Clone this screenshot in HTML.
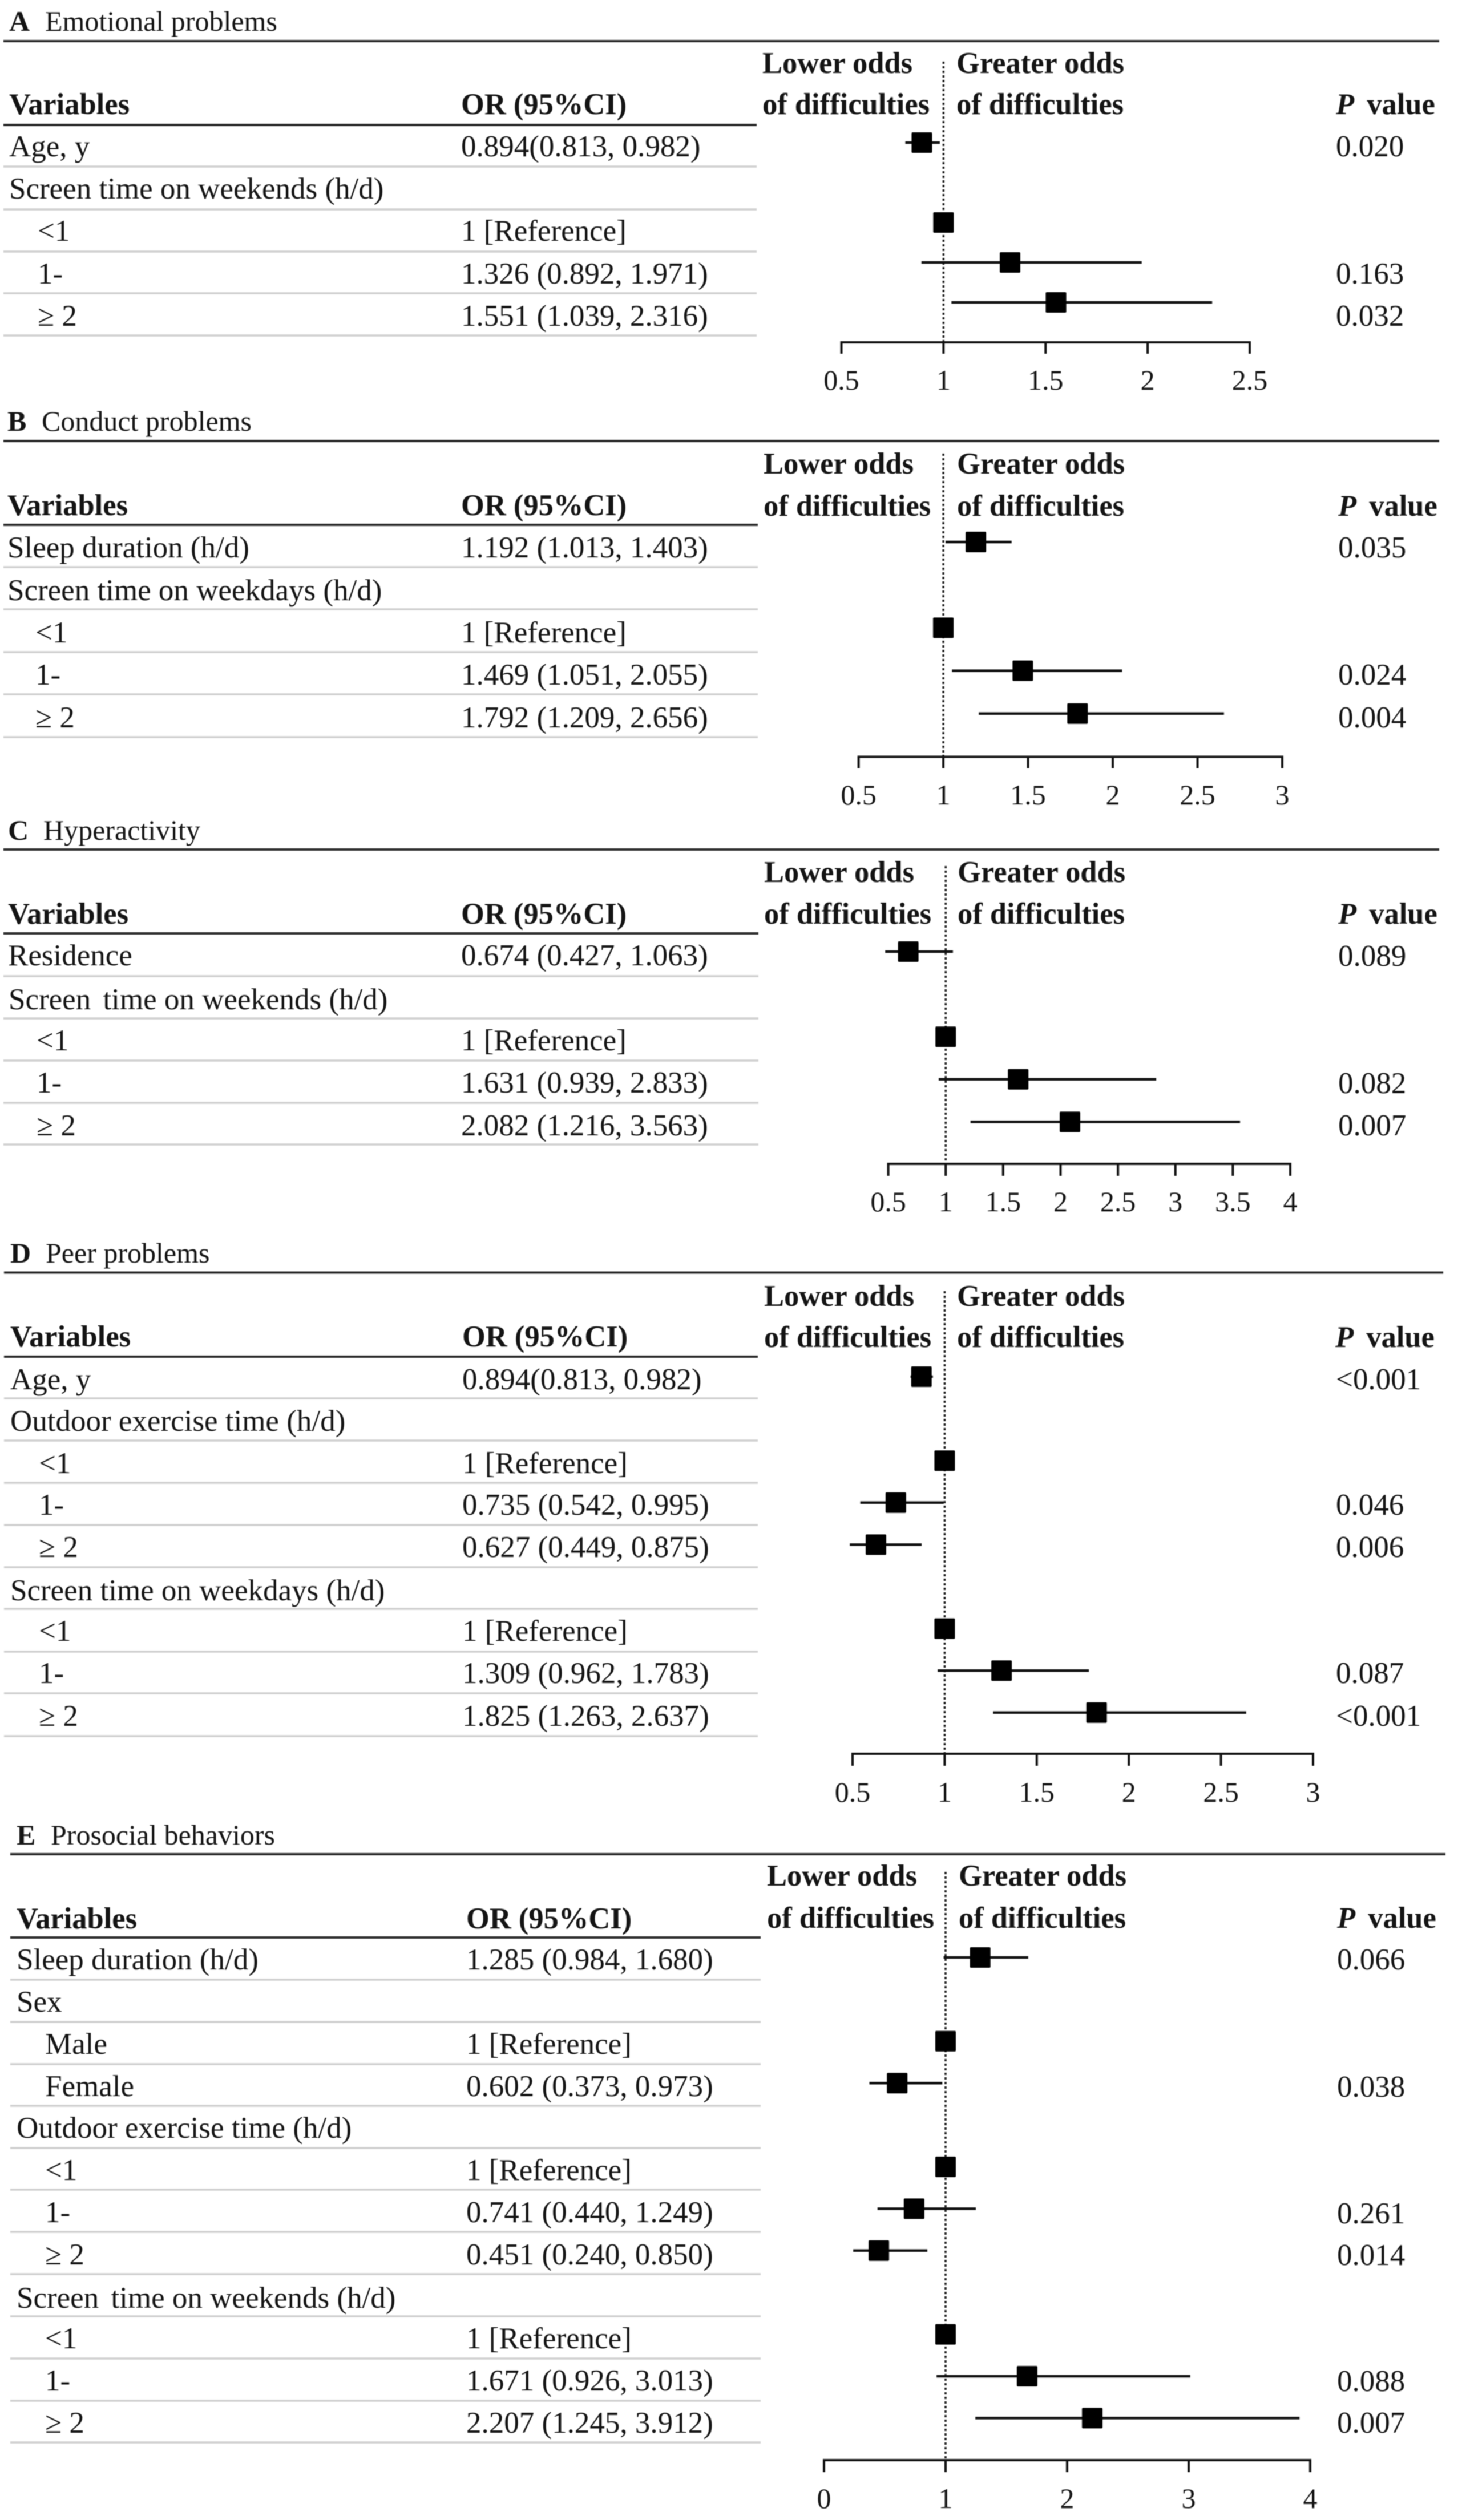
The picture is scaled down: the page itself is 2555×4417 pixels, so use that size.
<!DOCTYPE html>
<html lang="en">
<head>
<meta charset="utf-8">
<title>Forest plots of odds of difficulties</title>
<style>
html,body{margin:0;padding:0;background:#fff;}
#figure{display:block;width:2555px;height:4417px;filter:blur(0.8px);}
text{font-family:"Liberation Serif","Times New Roman",serif;fill:#141414;}
.r{font-size:53px;}
.h{font-size:52.5px;font-weight:bold;}
.t{font-size:50px;}
.tb{font-size:50px;font-weight:bold;}
.tick{font-size:50px;text-anchor:middle;}
.top{stroke:#2b2b2b;stroke-width:4;}
.head{stroke:#2b2b2b;stroke-width:4;}
.row{stroke:#cfcfcf;stroke-width:3.5;}
</style>
</head>
<body>
<svg id="figure" xmlns="http://www.w3.org/2000/svg" width="2555" height="4417" viewBox="0 0 2555 4417">
<rect x="0" y="0" width="2555" height="4417" fill="#fff"/>

<g>
<text class="tb" x="16" y="54">A</text>
<text class="t" x="79" y="54">Emotional problems</text>
<line class="top" x1="6" x2="2522" y1="72" y2="72"/>
<text class="h" x="1336" y="128">Lower odds</text>
<text class="h" x="1336" y="200">of difficulties</text>
<text class="h" x="1676" y="128">Greater odds</text>
<text class="h" x="1676" y="200">of difficulties</text>
<text class="h" x="16" y="200">Variables</text>
<text class="h" x="808" y="200">OR (95%CI)</text>
<text class="h" x="2341" y="200"><tspan font-style="italic">P</tspan><tspan dx="9"> value</tspan></text>
<line class="head" x1="6" x2="1326" y1="219" y2="219"/>
<line class="row" x1="6" x2="1326" y1="292" y2="292"/>
<line class="row" x1="6" x2="1326" y1="367" y2="367"/>
<line class="row" x1="6" x2="1326" y1="441" y2="441"/>
<line class="row" x1="6" x2="1326" y1="514" y2="514"/>
<line class="row" x1="6" x2="1326" y1="588" y2="588"/>
<text class="r" x="16" y="274">Age, y</text>
<text class="r" x="808" y="274">0.894(0.813, 0.982)</text>
<text class="r" x="2341" y="274">0.020</text>
<text class="r" x="16" y="348">Screen time on weekends (h/d)</text>
<text class="r" x="66" y="422">&lt;1</text>
<text class="r" x="808" y="422">1 [Reference]</text>
<text class="r" x="66" y="497">1-</text>
<text class="r" x="808" y="497">1.326 (0.892, 1.971)</text>
<text class="r" x="2341" y="497">0.163</text>
<text class="r" x="66" y="571">≥ 2</text>
<text class="r" x="808" y="571">1.551 (1.039, 2.316)</text>
<text class="r" x="2341" y="571">0.032</text>
</g>

<g>
<text class="tb" x="13" y="755">B</text>
<text class="t" x="73" y="755">Conduct problems</text>
<line class="top" x1="6" x2="2522" y1="773" y2="773"/>
<text class="h" x="1338" y="830">Lower odds</text>
<text class="h" x="1338" y="904">of difficulties</text>
<text class="h" x="1677" y="830">Greater odds</text>
<text class="h" x="1677" y="904">of difficulties</text>
<text class="h" x="13" y="903">Variables</text>
<text class="h" x="808" y="903">OR (95%CI)</text>
<text class="h" x="2345" y="904"><tspan font-style="italic">P</tspan><tspan dx="9"> value</tspan></text>
<line class="head" x1="6" x2="1328" y1="920" y2="920"/>
<line class="row" x1="6" x2="1328" y1="994" y2="994"/>
<line class="row" x1="6" x2="1328" y1="1068" y2="1068"/>
<line class="row" x1="6" x2="1328" y1="1143" y2="1143"/>
<line class="row" x1="6" x2="1328" y1="1217" y2="1217"/>
<line class="row" x1="6" x2="1328" y1="1292" y2="1292"/>
<text class="r" x="13" y="977">Sleep duration (h/d)</text>
<text class="r" x="808" y="977">1.192 (1.013, 1.403)</text>
<text class="r" x="2345" y="977">0.035</text>
<text class="r" x="13" y="1052">Screen time on weekdays (h/d)</text>
<text class="r" x="62" y="1126">&lt;1</text>
<text class="r" x="808" y="1126">1 [Reference]</text>
<text class="r" x="62" y="1200">1-</text>
<text class="r" x="808" y="1200">1.469 (1.051, 2.055)</text>
<text class="r" x="2345" y="1200">0.024</text>
<text class="r" x="62" y="1275">≥ 2</text>
<text class="r" x="808" y="1275">1.792 (1.209, 2.656)</text>
<text class="r" x="2345" y="1275">0.004</text>
</g>

<g>
<text class="tb" x="14" y="1472">C</text>
<text class="t" x="76" y="1472">Hyperactivity</text>
<line class="top" x1="6" x2="2522" y1="1489" y2="1489"/>
<text class="h" x="1339" y="1546">Lower odds</text>
<text class="h" x="1339" y="1619">of difficulties</text>
<text class="h" x="1678" y="1546">Greater odds</text>
<text class="h" x="1678" y="1619">of difficulties</text>
<text class="h" x="14" y="1619">Variables</text>
<text class="h" x="808" y="1619">OR (95%CI)</text>
<text class="h" x="2345" y="1619"><tspan font-style="italic">P</tspan><tspan dx="9"> value</tspan></text>
<line class="head" x1="6" x2="1329" y1="1636" y2="1636"/>
<line class="row" x1="6" x2="1329" y1="1711" y2="1711"/>
<line class="row" x1="6" x2="1329" y1="1785" y2="1785"/>
<line class="row" x1="6" x2="1329" y1="1859" y2="1859"/>
<line class="row" x1="6" x2="1329" y1="1933" y2="1933"/>
<line class="row" x1="6" x2="1329" y1="2006" y2="2006"/>
<text class="r" x="14" y="1692">Residence</text>
<text class="r" x="808" y="1692">0.674 (0.427, 1.063)</text>
<text class="r" x="2345" y="1693">0.089</text>
<text class="r" x="15" y="1769">Screen<tspan dx="8"> time on weekends (h/d)</tspan></text>
<text class="r" x="64" y="1841">&lt;1</text>
<text class="r" x="808" y="1841">1 [Reference]</text>
<text class="r" x="64" y="1915">1-</text>
<text class="r" x="808" y="1915">1.631 (0.939, 2.833)</text>
<text class="r" x="2345" y="1916">0.082</text>
<text class="r" x="64" y="1990">≥ 2</text>
<text class="r" x="808" y="1990">2.082 (1.216, 3.563)</text>
<text class="r" x="2345" y="1990">0.007</text>
</g>

<g>
<text class="tb" x="18" y="2213">D</text>
<text class="t" x="80" y="2213">Peer problems</text>
<line class="top" x1="7" x2="2529" y1="2230.5" y2="2230.5"/>
<text class="h" x="1339" y="2289">Lower odds</text>
<text class="h" x="1339" y="2361">of difficulties</text>
<text class="h" x="1677" y="2289">Greater odds</text>
<text class="h" x="1677" y="2361">of difficulties</text>
<text class="h" x="18" y="2360">Variables</text>
<text class="h" x="810" y="2360">OR (95%CI)</text>
<text class="h" x="2340" y="2361"><tspan font-style="italic">P</tspan><tspan dx="9"> value</tspan></text>
<line class="head" x1="7" x2="1328" y1="2378" y2="2378"/>
<line class="row" x1="7" x2="1328" y1="2451" y2="2451"/>
<line class="row" x1="7" x2="1328" y1="2525" y2="2525"/>
<line class="row" x1="7" x2="1328" y1="2599" y2="2599"/>
<line class="row" x1="7" x2="1328" y1="2673" y2="2673"/>
<line class="row" x1="7" x2="1328" y1="2747" y2="2747"/>
<line class="row" x1="7" x2="1328" y1="2820" y2="2820"/>
<line class="row" x1="7" x2="1328" y1="2895" y2="2895"/>
<line class="row" x1="7" x2="1328" y1="2968" y2="2968"/>
<line class="row" x1="7" x2="1328" y1="3043" y2="3043"/>
<text class="r" x="18" y="2435">Age, y</text>
<text class="r" x="810" y="2435">0.894(0.813, 0.982)</text>
<text class="r" x="2341" y="2435">&lt;0.001</text>
<text class="r" x="18" y="2508">Outdoor exercise time (h/d)</text>
<text class="r" x="68" y="2582">&lt;1</text>
<text class="r" x="810" y="2582">1 [Reference]</text>
<text class="r" x="68" y="2655">1-</text>
<text class="r" x="810" y="2655">0.735 (0.542, 0.995)</text>
<text class="r" x="2341" y="2655">0.046</text>
<text class="r" x="68" y="2729">≥ 2</text>
<text class="r" x="810" y="2729">0.627 (0.449, 0.875)</text>
<text class="r" x="2341" y="2729">0.006</text>
<text class="r" x="18" y="2805">Screen time on weekdays (h/d)</text>
<text class="r" x="68" y="2876">&lt;1</text>
<text class="r" x="810" y="2876">1 [Reference]</text>
<text class="r" x="68" y="2950">1-</text>
<text class="r" x="810" y="2950">1.309 (0.962, 1.783)</text>
<text class="r" x="2341" y="2950">0.087</text>
<text class="r" x="68" y="3025">≥ 2</text>
<text class="r" x="810" y="3025">1.825 (1.263, 2.637)</text>
<text class="r" x="2341" y="3025">&lt;0.001</text>
</g>

<g>
<text class="tb" x="29" y="3233">E</text>
<text class="t" x="89" y="3233">Prosocial behaviors</text>
<line class="top" x1="18" x2="2533" y1="3250" y2="3250"/>
<text class="h" x="1344" y="3305">Lower odds</text>
<text class="h" x="1344" y="3379">of difficulties</text>
<text class="h" x="1680" y="3305">Greater odds</text>
<text class="h" x="1680" y="3379">of difficulties</text>
<text class="h" x="29" y="3380">Variables</text>
<text class="h" x="817" y="3380">OR (95%CI)</text>
<text class="h" x="2343" y="3379"><tspan font-style="italic">P</tspan><tspan dx="9"> value</tspan></text>
<line class="head" x1="18" x2="1333" y1="3396" y2="3396"/>
<line class="row" x1="18" x2="1333" y1="3470" y2="3470"/>
<line class="row" x1="18" x2="1333" y1="3544" y2="3544"/>
<line class="row" x1="18" x2="1333" y1="3618" y2="3618"/>
<line class="row" x1="18" x2="1333" y1="3691" y2="3691"/>
<line class="row" x1="18" x2="1333" y1="3765" y2="3765"/>
<line class="row" x1="18" x2="1333" y1="3838" y2="3838"/>
<line class="row" x1="18" x2="1333" y1="3912" y2="3912"/>
<line class="row" x1="18" x2="1333" y1="3986" y2="3986"/>
<line class="row" x1="18" x2="1333" y1="4060" y2="4060"/>
<line class="row" x1="18" x2="1333" y1="4134" y2="4134"/>
<line class="row" x1="18" x2="1333" y1="4208" y2="4208"/>
<line class="row" x1="18" x2="1333" y1="4281" y2="4281"/>
<text class="r" x="29" y="3452">Sleep duration (h/d)</text>
<text class="r" x="817" y="3452">1.285 (0.984, 1.680)</text>
<text class="r" x="2343" y="3452">0.066</text>
<text class="r" x="29" y="3526">Sex</text>
<text class="r" x="79" y="3600">Male</text>
<text class="r" x="817" y="3600">1 [Reference]</text>
<text class="r" x="79" y="3674">Female</text>
<text class="r" x="817" y="3674">0.602 (0.373, 0.973)</text>
<text class="r" x="2343" y="3675">0.038</text>
<text class="r" x="29" y="3747">Outdoor exercise time (h/d)</text>
<text class="r" x="79" y="3821">&lt;1</text>
<text class="r" x="817" y="3821">1 [Reference]</text>
<text class="r" x="79" y="3895">1-</text>
<text class="r" x="817" y="3895">0.741 (0.440, 1.249)</text>
<text class="r" x="2343" y="3897">0.261</text>
<text class="r" x="79" y="3969">≥ 2</text>
<text class="r" x="817" y="3969">0.451 (0.240, 0.850)</text>
<text class="r" x="2343" y="3970">0.014</text>
<text class="r" x="29" y="4045">Screen<tspan dx="8"> time on weekends (h/d)</tspan></text>
<text class="r" x="79" y="4116">&lt;1</text>
<text class="r" x="817" y="4116">1 [Reference]</text>
<text class="r" x="79" y="4190">1-</text>
<text class="r" x="817" y="4190">1.671 (0.926, 3.013)</text>
<text class="r" x="2343" y="4191">0.088</text>
<text class="r" x="79" y="4264">≥ 2</text>
<text class="r" x="817" y="4264">2.207 (1.245, 3.912)</text>
<text class="r" x="2343" y="4264">0.007</text>
</g>

<g id="marks"></g>
</svg>

<script>
// Panel A — Emotional problems
const panelATicks = [0.5, 1, 1.5, 2, 2.5];
const panelATickLabels = ['0.5', '1', '1.5', '2', '2.5'];
const panelACategories = ['age', 'screen-weekends-header', 'lt1', '1-to-2', 'ge2'];
const panelAOr = [0.894, null, 1, 1.326, 1.551];
const panelALo = [0.813, null, 1, 0.892, 1.039];
const panelAHi = [0.982, null, 1, 1.971, 2.316];

// Panel B — Conduct problems
const panelBTicks = [0.5, 1, 1.5, 2, 2.5, 3];
const panelBTickLabels = ['0.5', '1', '1.5', '2', '2.5', '3'];
const panelBCategories = ['sleep', 'screen-weekdays-header', 'lt1', '1-to-2', 'ge2'];
const panelBOr = [1.192, null, 1, 1.469, 1.792];
const panelBLo = [1.013, null, 1, 1.051, 1.209];
const panelBHi = [1.403, null, 1, 2.055, 2.656];

// Panel C — Hyperactivity (first lower bound read from the drawn whisker)
const panelCTicks = [0.5, 1, 1.5, 2, 2.5, 3, 3.5, 4];
const panelCTickLabels = ['0.5', '1', '1.5', '2', '2.5', '3', '3.5', '4'];
const panelCCategories = ['residence', 'screen-weekends-header', 'lt1', '1-to-2', 'ge2'];
const panelCOr = [0.674, null, 1, 1.631, 2.082];
const panelCLo = [0.473, null, 1, 0.939, 1.216];
const panelCHi = [1.063, null, 1, 2.833, 3.563];

const panelDTicks = [0.5, 1, 1.5, 2, 2.5, 3];
const panelDTickLabels = ['0.5', '1', '1.5', '2', '2.5', '3'];
const panelDCategories = ['age', 'outdoor-header', 'outdoor-lt1', 'outdoor-1-to-2', 'outdoor-ge2', 'screen-weekdays-header', 'screen-lt1', 'screen-1-to-2', 'screen-ge2'];
const panelDOr = [0.874, null, 1, 0.735, 0.627, null, 1, 1.309, 1.825];
const panelDLo = [0.815, null, 1, 0.542, 0.485, null, 1, 0.962, 1.263];
const panelDHi = [0.936, null, 1, 0.995, 0.875, null, 1, 1.783, 2.637];

// Panel E — Prosocial behaviors
const panelETicks = [0, 1, 2, 3, 4];
const panelETickLabels = ['0', '1', '2', '3', '4'];
const panelECategories = ['sleep', 'sex-header', 'male', 'female', 'outdoor-header', 'outdoor-lt1', 'outdoor-1-to-2', 'outdoor-ge2', 'screen-weekends-header', 'screen-lt1', 'screen-1-to-2', 'screen-ge2'];
const panelEOr = [1.285, null, 1, 0.602, null, 1, 0.741, 0.451, null, 1, 1.671, 2.207];
const panelELo = [0.984, null, 1, 0.373, null, 1, 0.440, 0.240, null, 1, 0.926, 1.245];
const panelEHi = [1.680, null, 1, 0.973, null, 1, 1.249, 0.850, null, 1, 3.013, 3.912];

// Layout: pixel frame for each panel's axes (separate from the data above)
const layouts = [
  {key:'a', ticks:panelATicks, labels:panelATickLabels, cats:panelACategories, or:panelAOr, lo:panelALo, hi:panelAHi,
   left:1474.5, right:2190, axisY:600, tickLen:20, baseline:683, dotTop:108, rowTop:250, rowStep:70},
  {key:'b', ticks:panelBTicks, labels:panelBTickLabels, cats:panelBCategories, or:panelBOr, lo:panelBLo, hi:panelBHi,
   left:1504.6, right:2247, axisY:1326.5, tickLen:20, baseline:1410, dotTop:795, rowTop:950, rowStep:75.2},
  {key:'c', ticks:panelCTicks, labels:panelCTickLabels, cats:panelCCategories, or:panelCOr, lo:panelCLo, hi:panelCHi,
   left:1556.6, right:2261, axisY:2040, tickLen:21, baseline:2123, dotTop:1518, rowTop:1668, rowStep:74.6},
  {key:'d', ticks:panelDTicks, labels:panelDTickLabels, cats:panelDCategories, or:panelDOr, lo:panelDLo, hi:panelDHi,
   left:1494, right:2301, axisY:3074, tickLen:21, baseline:3158, dotTop:2263, rowTop:2413, rowStep:73.6},
  {key:'e', ticks:panelETicks, labels:panelETickLabels, cats:panelECategories, or:panelEOr, lo:panelELo, hi:panelEHi,
   left:1444, right:2296, axisY:4312, tickLen:21, baseline:4396, dotTop:3281, rowTop:3431, rowStep:73.4}
];

const SVGNS = 'http://www.w3.org/2000/svg';
const root = document.getElementById('marks');

function make(parent, tag, props) {
  const el = document.createElementNS(SVGNS, tag);
  for (const k in props) el.setAttribute(k, props[k]);
  parent.appendChild(el);
  return el;
}

layouts.forEach(function (p) {
  const dMin = p.ticks[0];
  const dMax = p.ticks[p.ticks.length - 1];
  const xScale = function (v) { return p.left + (v - dMin) / (dMax - dMin) * (p.right - p.left); };
  const yScale = function (i) { return p.rowTop + i * p.rowStep; };

  const g = make(root, 'g', {});
  
  

  const ref = make(g, 'line', {x1: xScale(1), x2: xScale(1), y1: p.dotTop, y2: p.axisY, stroke: '#1c1c1c', 'stroke-width': 3.5, 'stroke-dasharray': '4 4'});
  
  

  const axis = make(g, 'line', {x1: xScale(dMin) - 2, x2: xScale(dMax) + 2, y1: p.axisY, y2: p.axisY, stroke: '#111', 'stroke-width': 4});
  
  

  p.ticks.forEach(function (t, i) {
    const tick = make(g, 'line', {x1: xScale(t), x2: xScale(t), y1: p.axisY, y2: p.axisY + p.tickLen, stroke: '#111', 'stroke-width': 4});
    
    
    const label = make(g, 'text', {class: 'tick', x: xScale(t), y: p.baseline});
    
    
    label.textContent = p.labels[i];
  });

  p.or.forEach(function (v, i) {
    if (v === null) return;
    const y = yScale(i);
    if (p.hi[i] !== p.lo[i]) {
      const ci = make(g, 'line', {x1: xScale(p.lo[i]), x2: xScale(p.hi[i]), y1: y, y2: y, stroke: '#111', 'stroke-width': 4.5});
      
      
    }
    const marker = make(g, 'rect', {x: xScale(v) - 18, y: y - 18, width: 36, height: 36, rx: 2, fill: '#000'});
    
    
  });
});
</script>
</body>
</html>
